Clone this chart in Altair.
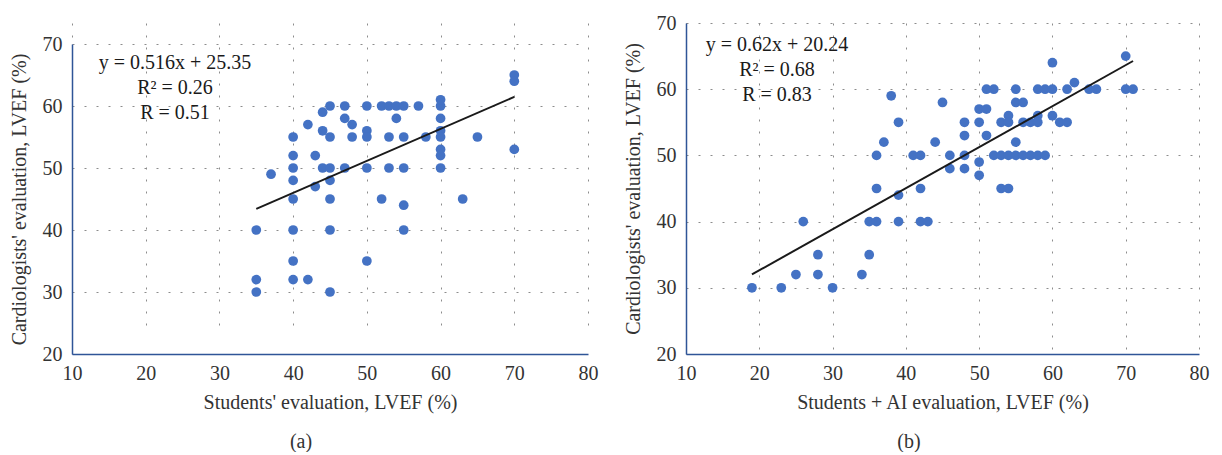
import altair as alt
import pandas as pd

# ---- data ----
a_x = [70, 70,
       45, 47, 50, 52, 53, 54, 55, 57, 60, 60,
       44, 47, 48, 54, 42, 44, 50, 50,
       60, 60, 60,
       40, 45, 48, 53, 55, 58, 65,
       70, 60, 60, 40, 43,
       40, 44, 45, 47, 50, 53, 55, 60,
       37, 40, 45, 43,
       40, 45, 52, 63, 55,
       35, 40, 45, 55,
       40, 50,
       35, 40, 42,
       35, 45]
a_y = [65, 64,
       60, 60, 60, 60, 60, 60, 60, 60, 60, 61,
       59, 58, 57, 58, 57, 56, 56, 55,
       58, 56, 55,
       55, 55, 55, 55, 55, 55, 55,
       53, 53, 52, 52, 52,
       50, 50, 50, 50, 50, 50, 50, 50,
       49, 48, 48, 47,
       45, 45, 45, 45, 44,
       40, 40, 40, 40,
       35, 35,
       32, 32, 32,
       30, 30]

b_x = [70, 60, 63,
       51, 52, 55, 58, 59, 60, 62, 65, 66, 70, 71,
       38, 45, 55, 56, 50, 51,
       54, 58, 60,
       39, 48, 50, 53, 54, 56, 57, 58, 61, 62,
       48, 51, 37, 44, 55,
       36, 41, 42, 46, 48, 52, 53, 54, 55, 56, 57, 58, 59,
       50, 46, 48, 50,
       36, 42, 53, 54, 39,
       26, 35, 36, 39, 42, 43,
       28, 35,
       25, 28, 34,
       19, 23, 30]
b_y = [65, 64, 61,
       60, 60, 60, 60, 60, 60, 60, 60, 60, 60, 60,
       59, 58, 58, 58, 57, 57,
       56, 56, 56,
       55, 55, 55, 55, 55, 55, 55, 55, 55, 55,
       53, 53, 52, 52, 52,
       50, 50, 50, 50, 50, 50, 50, 50, 50, 50, 50, 50, 50,
       49, 48, 48, 47,
       45, 45, 45, 45, 44,
       40, 40, 40, 40, 40, 40,
       35, 35,
       32, 32, 32,
       30, 30, 30]

x_ticks = [10, 20, 30, 40, 50, 60, 70, 80]
y_ticks = [20, 30, 40, 50, 60, 70]
fit_a = [0.516, 25.35]
fit_b = [0.62, 20.24]
ann_a = ["y = 0.516x + 25.35", "R\u00b2 = 0.26", "R = 0.51"]
ann_b = ["y = 0.62x + 20.24", "R\u00b2 = 0.68", "R = 0.83"]

FONT = "Liberation Serif"
TXT = "#333333"
DOT = "#4472C4"
AXIS_BLUE = "#2f5597"
H = 331


def panel(xs, ys, fit, ann, xtitle, caption, w, ytop, ann_x, ann_y, cap_x):
    df = pd.DataFrame({"x": xs, "y": ys})
    xmin, xmax = min(xs), max(xs)
    line_df = pd.DataFrame({"x": [xmin, xmax],
                            "y": [fit[0] * xmin + fit[1], fit[0] * xmax + fit[1]]})
    xsc = alt.Scale(domain=[10, 80], nice=False, zero=False)
    ysc = alt.Scale(domain=[20, 70], nice=False, zero=False, range=[H, ytop])
    common = dict(grid=True, gridDash=[2, 10], gridColor="#8c8c8c", gridWidth=1,
                  ticks=False, domainColor=AXIS_BLUE, domainWidth=1.5,
                  labelFlush=False, labelOverlap=False,
                  labelFont=FONT, labelFontSize=20, labelColor=TXT,
                  titleFont=FONT, titleFontSize=20, titleFontWeight="normal",
                  titleColor=TXT)
    xax = alt.Axis(values=x_ticks, title=xtitle, labelPadding=9, titlePadding=9, **common)
    yax = alt.Axis(values=y_ticks, title="Cardiologists' evaluation, LVEF (%)",
                   labelPadding=10, titlePadding=13, **common)

    pts = alt.Chart(df).mark_circle(size=95, color=DOT, opacity=1).encode(
        x=alt.X("x:Q", scale=xsc, axis=xax),
        y=alt.Y("y:Q", scale=ysc, axis=yax),
    )
    line = alt.Chart(line_df).mark_line(color="#1a1a1a", strokeWidth=2).encode(
        x=alt.X("x:Q", scale=xsc), y=alt.Y("y:Q", scale=ysc))
    txt = alt.Chart(pd.DataFrame({"k": [0]})).mark_text(
        text=ann, font=FONT, fontSize=20, color="#1a1a1a", align="center",
        baseline="middle", lineHeight=25).encode(
        x=alt.value(ann_x), y=alt.value(ann_y))
    cap = alt.Chart(pd.DataFrame({"k": [0]})).mark_text(
        text=caption, font=FONT, fontSize=20, color=TXT, align="center",
        baseline="middle").encode(x=alt.value(cap_x), y=alt.value(419))
    return alt.layer(pts, line, txt, cap).properties(width=w, height=H)


pa = panel(a_x, a_y, fit_a, ann_a, "Students' evaluation, LVEF (%)", "(a)",
           516, 21, 103, 40, 229)
pb = panel(b_x, b_y, fit_b, ann_b, "Students + AI evaluation, LVEF (%)", "(b)",
           513, 0, 91, 22, 223)

chart = alt.hconcat(pa, pb, spacing=25).configure_view(stroke=None).properties(
    padding={"left": 1, "top": 5, "right": 5, "bottom": 0})

chart.save("out.html", embed_options={"renderer": "svg", "actions": False})
